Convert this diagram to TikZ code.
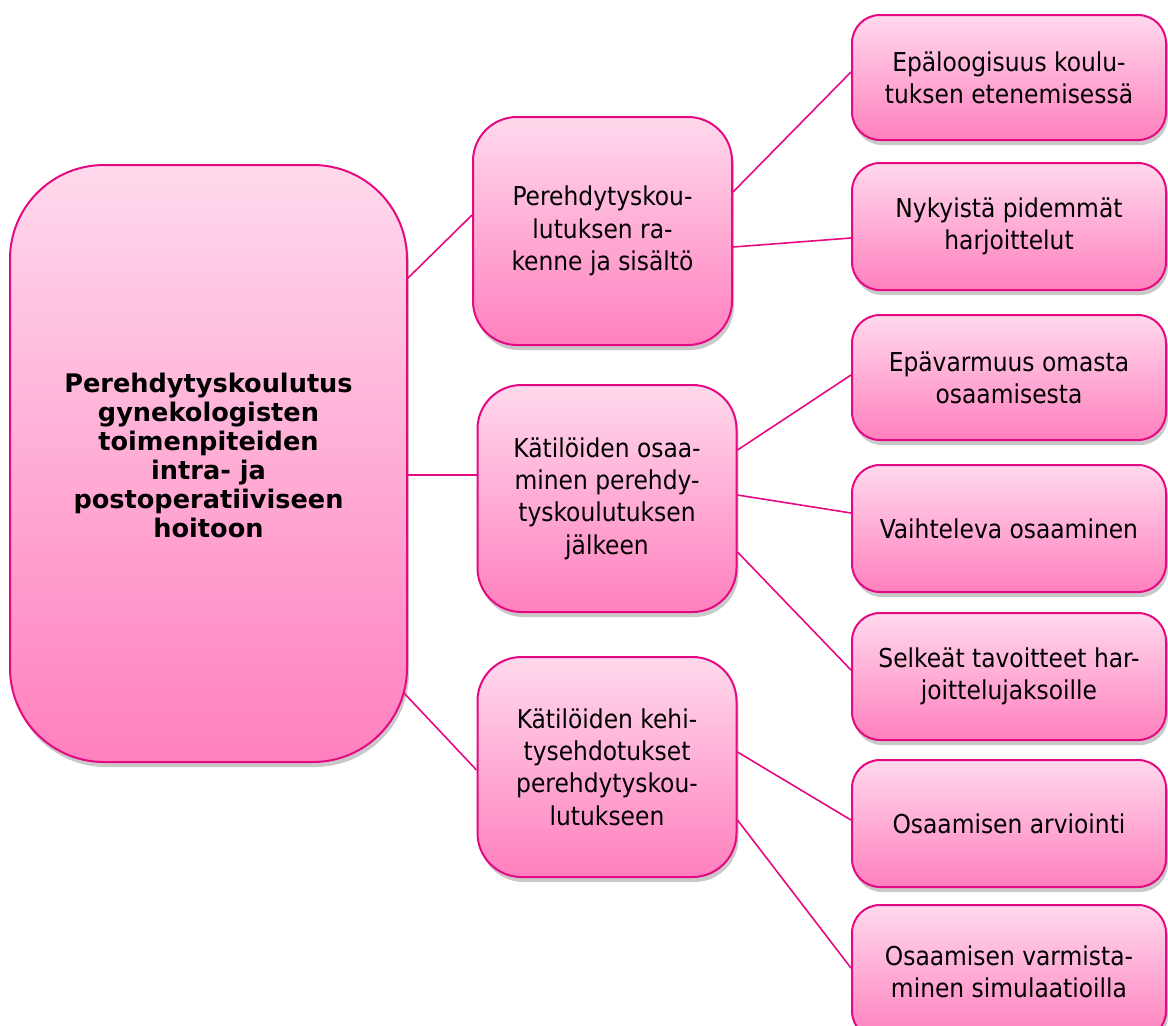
\documentclass[tikz,border=0pt]{standalone}
\usepackage{fontspec}
\setmainfont{DejaVu Sans Condensed}
\newfontfamily\rootfont{DejaVu Sans}
\usetikzlibrary{shadows,calc}
\definecolor{pinkTop}{RGB}{255,217,236}
\definecolor{pinkBot}{RGB}{255,128,190}
\definecolor{pinkLine}{RGB}{230,10,130}
\tikzset{
  pbox/.style={draw=pinkLine, line width=1pt, top color=pinkTop, bottom color=pinkBot,
    rounded corners=#1, align=center, inner sep=0pt,
    drop shadow={shadow xshift=1pt, shadow yshift=-2.5pt, opacity=0.3, fill=black!70}},
  rootbox/.style={pbox=47pt, minimum width=198.5pt, minimum height=298.5pt},
  roottextstyle/.style={align=center, inner sep=0pt,
    font=\rootfont\bfseries\fontsize{12.8}{14.5}\selectfont},
  midbox/.style={pbox=22pt, minimum width=129.5pt, font=\fontsize{13}{16.2}\selectfont},
  leafbox/.style={pbox=14pt, minimum width=157pt, font=\fontsize{13}{16}\selectfont},
  conn/.style={draw=pinkLine, line width=0.8pt}
}
\begin{document}
\begin{tikzpicture}[x=0.5pt,y=-0.5pt]
\useasboundingbox (0,0) rectangle (1168,1025);
\node[rootbox] (root) at (208.5,463.5) {};
\node[roottextstyle] (roottext) at (208.5,455) {Perehdytyskoulutus\\gynekologisten\\toimenpiteiden\\intra- ja\\postoperatiiviseen\\hoitoon};
\node[midbox, minimum height=114pt] (m1) at (602.5,231) {Perehdytyskou-\\lutuksen ra-\\kenne ja sisältö};
\node[midbox, minimum height=113.5pt] (m2) at (607,498.5) {Kätilöiden osaa-\\minen perehdy-\\tyskoulutuksen\\jälkeen};
\node[midbox, minimum height=110pt] (m3) at (607,767) {Kätilöiden kehi-\\tysehdotukset\\perehdytyskou-\\lutukseen};
\node[leafbox, minimum height=62.5pt] (r1) at (1009,77.5) {Epäloogisuus koulu-\\tuksen etenemisessä};
\node[leafbox, minimum height=63.5pt] (r2) at (1009,226.5) {Nykyistä pidemmät\\harjoittelut};
\node[leafbox, minimum height=62.5pt] (r3) at (1009,377.5) {Epävarmuus omasta\\osaamisesta};
\node[leafbox, minimum height=63.5pt] (r4) at (1009,528.5) {Vaihteleva osaaminen};
\node[leafbox, minimum height=63.5pt] (r5) at (1009,676.5) {Selkeät tavoitteet har-\\joittelujaksoille};
\node[leafbox, minimum height=63.5pt] (r6) at (1009,823.5) {Osaamisen arviointi};
\node[leafbox, minimum height=67pt] (r7) at (1009,972) {Osaamisen varmista-\\minen simulaatioilla};
\draw[conn] (root.east |- 0,278) -- (m1.west |- 0,215);
\draw[conn] (root.east |- 0,475) -- (m2.west |- 0,475);
\draw[conn] ($(root.east |- 0,693)+(-4,0)$) -- (m3.west |- 0,770);
\draw[conn] (m1.east |- 0,192) -- (r1.west |- 0,72);
\draw[conn] (m1.east |- 0,247) -- (r2.west |- 0,238);
\draw[conn] (m2.east |- 0,450) -- (r3.west |- 0,375);
\draw[conn] (m2.east |- 0,495) -- (r4.west |- 0,513);
\draw[conn] (m2.east |- 0,552) -- (r5.west |- 0,670);
\draw[conn] (m3.east |- 0,752) -- (r6.west |- 0,820);
\draw[conn] (m3.east |- 0,820) -- (r7.west |- 0,968);
\end{tikzpicture}
\end{document}
